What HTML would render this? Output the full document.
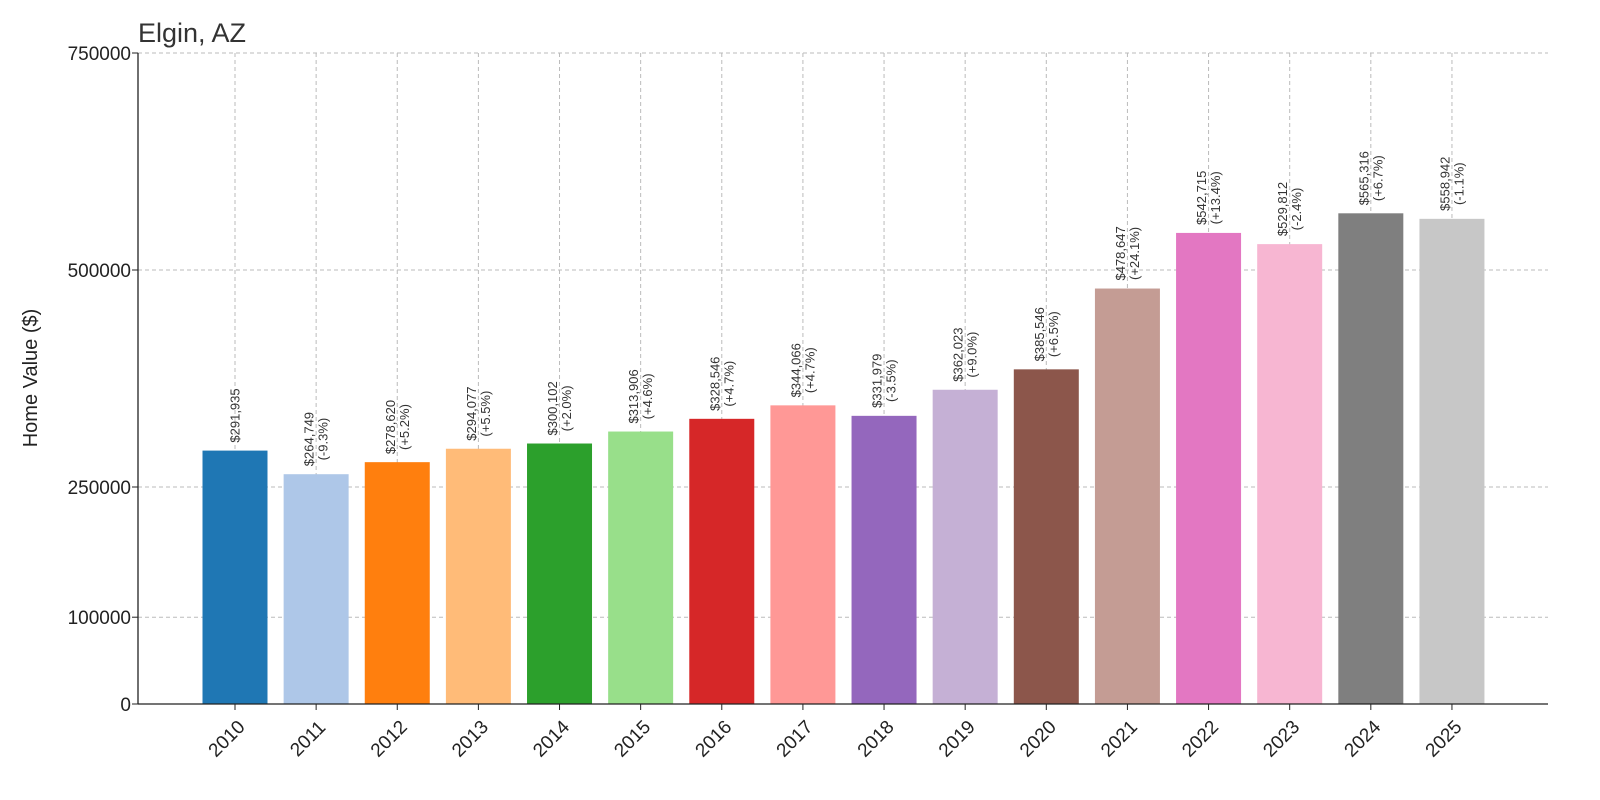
<!DOCTYPE html>
<html><head><meta charset="utf-8"><style>
body{margin:0;background:#fff;}
svg{display:block;font-family:"Liberation Sans","DejaVu Sans",sans-serif;}
</style></head><body>
<svg id="chart" width="1600" height="800" viewBox="0 0 1600 800">
<text x="138" y="42" font-size="27" fill="#333">Elgin, AZ</text>
<text transform="translate(37,378) rotate(-90)" text-anchor="middle" font-size="20" fill="#222">Home Value ($)</text>
<g id="grid"></g><g id="bars"></g><g id="labels"></g><g id="axes"></g>
</svg>
<script>
const years = ["2010","2011","2012","2013","2014","2015","2016","2017","2018","2019","2020","2021","2022","2023","2024","2025"];
const values = [291935,264749,278620,294077,300102,313906,328546,344066,331979,362023,385546,478647,542715,529812,565316,558942];
const pctLabels = ["","-9.3%","+5.2%","+5.5%","+2.0%","+4.6%","+4.7%","+4.7%","-3.5%","+9.0%","+6.5%","+24.1%","+13.4%","-2.4%","+6.7%","-1.1%"];
const yTicks = [0,100000,250000,500000,750000];
const colors = ["#1f77b4","#aec7e8","#ff7f0e","#ffbb78","#2ca02c","#98df8a","#d62728","#ff9896","#9467bd","#c5b0d5","#8c564b","#c49c94","#e377c2","#f7b6d2","#7f7f7f","#c7c7c7"];
const NS="http://www.w3.org/2000/svg";
const L=138,R=1548,T=53,B=704,yMax=750000;
const y=v=>B-(v/yMax)*(B-T);
const x0=235,step=81.13,bw=65;
const x=i=>x0+i*step;
function mk(tag,attrs,parent){const e=document.createElementNS(NS,tag);for(const k in attrs)e.setAttribute(k,attrs[k]);parent.appendChild(e);return e;}
const grid=document.getElementById('grid'),bars=document.getElementById('bars'),labels=document.getElementById('labels'),axes=document.getElementById('axes');
yTicks.forEach(t=>{
  if(t>0){const g=mk('line',{x1:L,x2:R,y1:y(t),y2:y(t),stroke:'#bbb','stroke-width':1,'stroke-dasharray':'4,3'},grid);
  
  }
  const tk=mk('line',{x1:L-6,x2:L,y1:y(t),y2:y(t),stroke:'#222'},axes);
  
  
  const tl=mk('text',{x:L-7,y:y(t)+7,'text-anchor':'end','font-size':19,fill:'#222'},axes);
  tl.textContent=t;
  
  
});
years.forEach((yr,i)=>{
  const cx=x(i);
  const b=mk('rect',{x:cx-bw/2,y:y(values[i]),width:bw,height:B-y(values[i]),fill:colors[i]},bars);
  
  
  const gl=mk('line',{x1:cx,x2:cx,y1:T,y2:B,stroke:'#bbb','stroke-width':1,'stroke-dasharray':'4,3'},grid);
  
  
  const tk=mk('line',{x1:cx,x2:cx,y1:B,y2:B+6,stroke:'#222'},axes);
  
  
  const xl=mk('text',{transform:`translate(${cx-4},${743}) rotate(-45)`,'text-anchor':'middle','font-size':19,fill:'#222'},axes);
  xl.textContent=yr;
  
  
  const top=y(values[i])-8;
  const lines=['$'+values[i].toLocaleString('en-US')];
  if(pctLabels[i])lines.push('('+pctLabels[i]+')');
  const g=mk('g',{transform:`translate(${cx},${top}) rotate(-90)`},labels);
  
  
  const ts=lines.map((s,j)=>{const off=lines.length===1?0:(j===0?-7:7);
    const t=mk('text',{x:0,y:off,'text-anchor':'middle','dominant-baseline':'central','font-size':13,fill:'#333'},g);t.textContent=s;return t;});
  const w=Math.max(...ts.map(t=>t.getComputedTextLength()));
  ts.forEach(t=>t.setAttribute('x',w/2));
});
const ax1=mk('line',{x1:L,x2:L,y1:T,y2:B,stroke:'#222','stroke-width':1.3},axes);


const ax2=mk('line',{x1:L,x2:R,y1:B,y2:B,stroke:'#222','stroke-width':1.3},axes);


</script>
</body></html>
